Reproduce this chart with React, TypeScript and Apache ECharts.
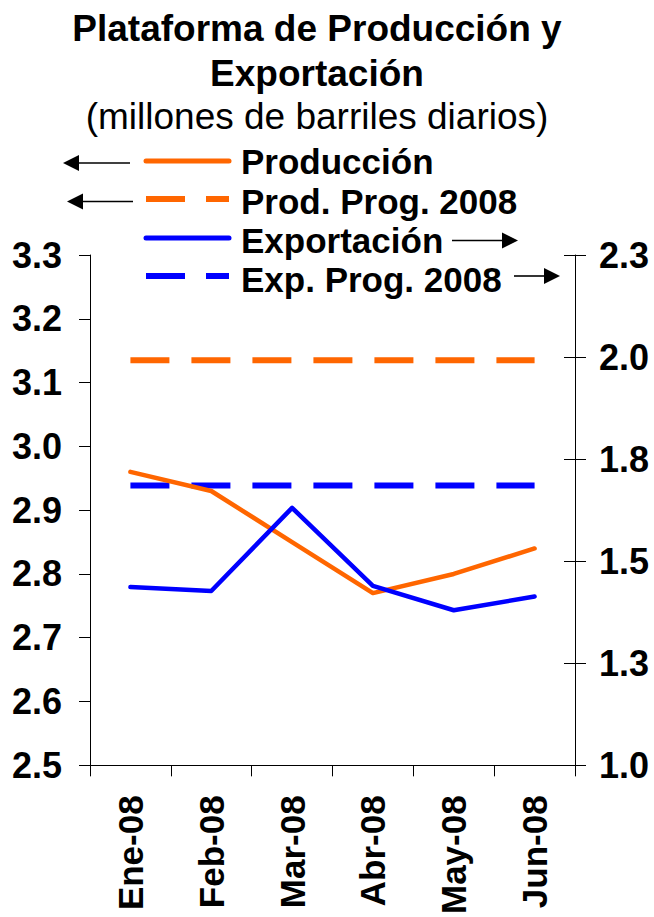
import React, { useEffect, useRef } from "react";
import * as echarts from "echarts";

const categories = ["Ene-08", "Feb-08", "Mar-08", "Abr-08", "May-08", "Jun-08"];
const produccion = [2.96, 2.93, 2.85, 2.77, 2.8, 2.84];
const prodProg2008 = [3.135, 3.135, 3.135, 3.135, 3.135, 3.135];
const exportacion = [1.454, 1.444, 1.656, 1.457, 1.395, 1.43];
const expProg2008 = [1.713, 1.713, 1.713, 1.713, 1.713, 1.713];

const leftMin = 2.5;
const leftMax = 3.3;
const leftStep = 0.1;
const rightMin = 1.0;
const rightMax = 2.3;
const rightStep = 0.26;

const titleLines = ["Plataforma de Producción y", "Exportación"];
const subtitle = "(millones de barriles diarios)";
const legendNames = ["Producción", "Prod. Prog. 2008", "Exportación", "Exp. Prog. 2008"];

const ORANGE = "#FF6600";
const BLUE = "#0000FF";
const FONT = "'Liberation Sans', Arial, Helvetica, sans-serif";

// right axis is expressed in hundredths above its minimum so ticks start at 0
const toRight = (v: number) => Math.round((v - rightMin) * 10000) / 100;
const rightSpan = Math.round((rightMax - rightMin) * 100);
const rightInterval = Math.round(rightStep * 100);

function arrow(x1: number, x2: number, y: number) {
  // x1 = tail, x2 = tip
  const dir = x2 > x1 ? 1 : -1;
  const headLen = 16;
  const half = 8;
  const base = x2 - dir * headLen;
  return [
    {
      type: "line",
      shape: { x1, y1: y, x2: base, y2: y },
      style: { stroke: "#000", lineWidth: 1.6 },
    },
    {
      type: "polygon",
      shape: { points: [[x2, y], [base, y - half], [base, y + half]] },
      style: { fill: "#000" },
    },
  ];
}

export default function App() {
  const ref = useRef<HTMLDivElement>(null);

  useEffect(() => {
    if (!ref.current) return;
    const chart = echarts.init(ref.current, null, { renderer: "svg" });

    const legendRows = [
      { y: 161, color: ORANGE, dashed: false, textY: 161 },
      { y: 199, color: ORANGE, dashed: true, textY: 201 },
      { y: 238, color: BLUE, dashed: false, textY: 240 },
      { y: 276, color: BLUE, dashed: true, textY: 279 },
    ];

    const graphics: any[] = [];
    graphics.push({
      type: "text",
      x: 317,
      y: 28,
      style: {
        text: titleLines[0],
        font: `bold 37px ${FONT}`,
        fill: "#000",
        textAlign: "center",
        textVerticalAlign: "middle",
      },
    });
    graphics.push({
      type: "text",
      x: 317,
      y: 73,
      style: {
        text: titleLines[1],
        font: `bold 37px ${FONT}`,
        fill: "#000",
        textAlign: "center",
        textVerticalAlign: "middle",
      },
    });
    graphics.push({
      type: "text",
      x: 317,
      y: 116,
      style: {
        text: subtitle,
        font: `37px ${FONT}`,
        fill: "#000",
        textAlign: "center",
        textVerticalAlign: "middle",
      },
    });

    legendRows.forEach((r, i) => {
      graphics.push({
        type: "line",
        shape: { x1: 146, y1: r.y, x2: 229, y2: r.y },
        style: {
          stroke: r.color,
          lineWidth: r.dashed ? 6 : 5,
          lineDash: r.dashed ? [39, 21] : null,
          lineCap: r.dashed ? "butt" : "round",
        },
      });
      graphics.push({
        type: "text",
        x: 241,
        y: r.textY,
        style: {
          text: legendNames[i],
          font: `bold 35px ${FONT}`,
          fill: "#000",
          textAlign: "left",
          textVerticalAlign: "middle",
        },
      });
    });
    graphics.push(...arrow(130, 63, 163));
    graphics.push(...arrow(133, 67, 201.5));
    graphics.push(...arrow(452, 518, 240.5));
    graphics.push(...arrow(514, 560, 276));

    const labelStyle = {
      color: "#000",
      fontFamily: FONT,
      fontWeight: "bold" as const,
      fontSize: 35,
    };

    const option: any = {
      animation: false,
      backgroundColor: "#fff",
      grid: { left: 90, top: 255, width: 485, height: 513, containLabel: false },
      xAxis: {
        type: "category",
        data: categories,
        boundaryGap: true,
        axisLine: { lineStyle: { color: "#000", width: 1 } },
        axisTick: { show: true, length: 11, lineStyle: { color: "#000" } },
        axisLabel: { ...labelStyle, rotate: 90, margin: 30, interval: 0 },
        splitLine: { show: false },
      },
      yAxis: [
        {
          type: "value",
          position: "left",
          min: leftMin,
          max: leftMax,
          interval: leftStep,
          axisLine: { show: true, lineStyle: { color: "#000", width: 1 } },
          axisTick: { show: true, length: 11, lineStyle: { color: "#000" } },
          axisLabel: { ...labelStyle, fontSize: 36, margin: 28, formatter: (v: number) => v.toFixed(1) },
          splitLine: { show: false },
        },
        {
          type: "value",
          position: "right",
          min: 0,
          max: rightSpan,
          interval: rightInterval,
          axisLine: { show: true, lineStyle: { color: "#000", width: 1 } },
          axisTick: { show: true, length: 11, lineStyle: { color: "#000" } },
          axisLabel: {
            ...labelStyle,
            fontSize: 36,
            margin: 24,
            formatter: (v: number) => (rightMin + v / 100).toFixed(1),
          },
          splitLine: { show: false },
        },
        {
          type: "value",
          position: "right",
          min: 0,
          max: rightSpan,
          interval: rightInterval,
          axisLine: { show: false },
          axisTick: { show: true, inside: true, length: 11, lineStyle: { color: "#000" } },
          axisLabel: { show: false },
          splitLine: { show: false },
        },
      ],
      series: [
        {
          name: legendNames[3],
          type: "line",
          yAxisIndex: 1,
          data: expProg2008.map(toRight),
          showSymbol: false,
          symbol: "none",
          lineStyle: { color: BLUE, width: 6, type: [39, 22], cap: "butt" },
        },
        {
          name: legendNames[1],
          type: "line",
          yAxisIndex: 0,
          data: prodProg2008,
          showSymbol: false,
          symbol: "none",
          lineStyle: { color: ORANGE, width: 6, type: [39, 22], cap: "butt" },
        },
        {
          name: legendNames[0],
          type: "line",
          yAxisIndex: 0,
          data: produccion,
          showSymbol: false,
          symbol: "none",
          lineStyle: { color: ORANGE, width: 4.5, cap: "round", join: "round" },
        },
        {
          name: legendNames[2],
          type: "line",
          yAxisIndex: 1,
          data: exportacion.map(toRight),
          showSymbol: false,
          symbol: "none",
          lineStyle: { color: BLUE, width: 4.5, cap: "round", join: "round" },
        },
      ],
      graphic: graphics,
    };

    chart.setOption(option);
    return () => chart.dispose();
  }, []);

  return (
    <div
      ref={ref}
      style={{ position: "absolute", left: 0, top: 0, width: 654, height: 917, background: "#fff" }}
    />
  );
}
